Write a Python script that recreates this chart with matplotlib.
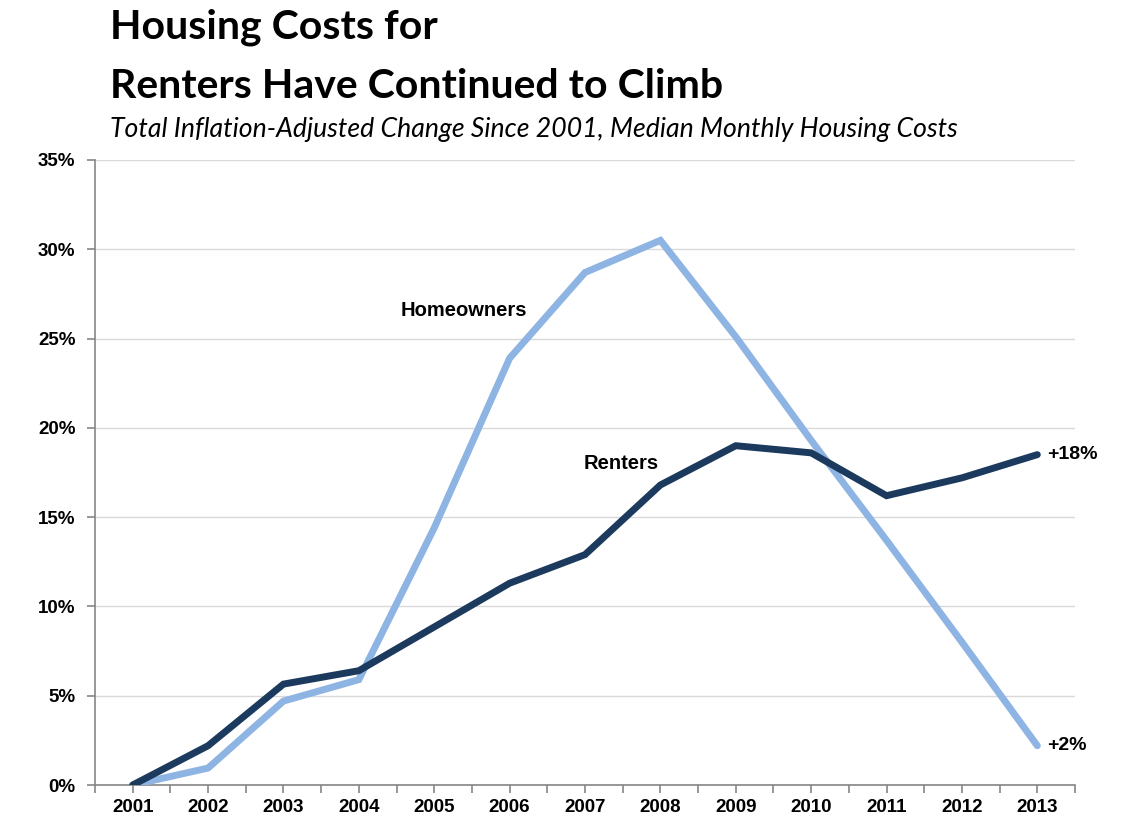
import matplotlib.pyplot as plt
from matplotlib.ticker import FuncFormatter, MultipleLocator

years = [2001, 2002, 2003, 2004, 2005, 2006, 2007, 2008, 2009, 2010, 2011, 2012, 2013]
homeowners = [0.0, 0.95, 4.7, 5.9, 14.4, 23.9, 28.7, 30.5, 25.1, 19.3, 13.7, 8.0, 2.2]
renters = [0.0, 2.2, 5.65, 6.4, 8.85, 11.3, 12.9, 16.8, 19.0, 18.6, 16.2, 17.2, 18.5]

light_blue = "#8db4e2"
navy = "#1b3a5e"

fig = plt.figure(figsize=(11.26, 8.27), dpi=100)
ax = fig.add_axes([95 / 1126, 42 / 827, 980 / 1126, 625 / 827])

ax.plot(years, homeowners, color=light_blue, lw=5, solid_capstyle="round", solid_joinstyle="miter", zorder=3)
ax.plot(years, renters, color=navy, lw=5, solid_capstyle="round", solid_joinstyle="miter", zorder=4)

ax.set_xlim(2000.5, 2013.5)
ax.set_ylim(0, 35)
ax.yaxis.set_major_locator(MultipleLocator(5))
ax.yaxis.set_major_formatter(FuncFormatter(lambda v, p: f"{v:.0f}%"))
ax.set_xticks(years)
ax.set_xticks([y + 0.5 for y in [2000] + years], minor=True)
ax.grid(axis="y", color="#d9d9d9", lw=1)
ax.set_axisbelow(True)

for s in ["top", "right"]:
    ax.spines[s].set_visible(False)
for s in ["left", "bottom"]:
    ax.spines[s].set_color("#868686")
    ax.spines[s].set_linewidth(1.2)
ax.tick_params(axis="both", which="both", color="#868686", width=1.2, length=6, direction="out")
ax.tick_params(axis="x", pad=4)
ax.tick_params(axis="y", pad=8)
for lab in ax.get_xticklabels() + ax.get_yticklabels():
    lab.set_fontfamily("Liberation Sans")
    lab.set_fontweight("bold")
    lab.set_fontsize(13.5)

ax.text(2005.39, 26.6, "Homeowners", family="Liberation Sans", weight="bold", fontsize=14.5, ha="center", va="center")
ax.text(2007.48, 18.0, "Renters", family="Liberation Sans", weight="bold", fontsize=14.5, ha="center", va="center")
ax.annotate(f"+{renters[-1]:.0f}%", (years[-1], renters[-1]), xytext=(7, 0), textcoords="offset points",
            family="Liberation Sans", weight="bold", fontsize=14, va="center", annotation_clip=False)
ax.annotate(f"+{homeowners[-1]:.0f}%", (years[-1], homeowners[-1]), xytext=(7, 0), textcoords="offset points",
            family="Liberation Sans", weight="bold", fontsize=14, va="center", annotation_clip=False)

fig.text(110 / 1126, 1 - 39 / 827, "Housing Costs for", family="Lato", weight="bold", fontsize=29.5, va="baseline")
fig.text(110 / 1126, 1 - 98 / 827, "Renters Have Continued to Climb", family="Lato", weight="bold", fontsize=29.5, va="baseline")
fig.text(110 / 1126, 1 - 137 / 827, "Total Inflation-Adjusted Change Since 2001, Median Monthly Housing Costs",
         family="Lato", style="italic", fontsize=19.2, va="baseline")

fig.savefig("out.png", dpi=100)
